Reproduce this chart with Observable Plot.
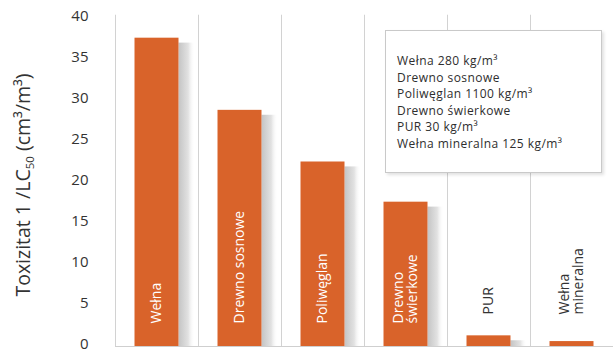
<!DOCTYPE html>
<html><head><meta charset="utf-8">
<script src="https://cdn.jsdelivr.net/npm/d3@7"></script>
<script src="https://cdn.jsdelivr.net/npm/@observablehq/plot@0.6"></script>
<style>
body{margin:0;background:#fff;font-family:"Open Sans",sans-serif}
#wrap{position:relative;width:613px;height:352px}
#legend{position:absolute;left:385px;top:30px;width:217px;height:143px;background:#fff;border:1px solid #c9c9c9;box-shadow:2px 2px 3px rgba(0,0,0,0.12);box-sizing:border-box;padding:22px 0 0 11px;font-size:12px;letter-spacing:0.45px;line-height:16.6px;color:#2e2e2e;white-space:nowrap}
</style>
</head><body><div id="wrap"></div>
<script>
const categories = ["Wełna", "Drewno sosnowe", "Poliwęglan", "Drewno\nświerkowe", "PUR", "Wełna\nmineralna"];
const values = [37.6, 28.8, 22.5, 17.6, 1.3, 0.6];
const yTicks = [0, 5, 10, 15, 20, 25, 30, 35, 40];
const legendLines = ["Wełna 280 kg/m³", "Drewno sosnowe", "Poliwęglan 1100 kg/m³", "Drewno świerkowe", "PUR 30 kg/m³", "Wełna mineralna 125 kg/m³"];

const data = categories.map((c, i) => ({i, c, v: values[i], inside: values[i] > 5}));
const bounds = categories.slice(1).map((c, i) => i + 0.5).concat([-0.5]);

const orange = "#d9632a";
const plot = Plot.plot({
  width: 613, height: 352,
  marginLeft: 115, marginRight: 0, marginTop: 18, marginBottom: 6,
  style: {fontFamily: "Open Sans", background: "#fff", overflow: "visible"},
  x: {type: "linear", domain: [-0.5, 5.5], axis: null},
  y: {domain: [0, 40], axis: null},
  marks: [
    Plot.ruleX(bounds, {x: d => d, y1: 0, y2: 40.4, stroke: "#d2d2d2"}),
    Plot.ruleY([0], {x1: -0.5, x2: 5.5, stroke: "#cfcfcf"}),
    Plot.rectY(data, {x1: d => d.i + 0.265, x2: d => d.i + 0.46, y1: 0, y2: d => Math.max(0, d.v - 0.6), fill: "url(#sg)"}),
    Plot.rectY(data, {x1: d => d.i - 0.265, x2: d => d.i + 0.265, y1: 0, y2: "v", fill: orange}),
    Plot.text(data.filter(d => d.inside), {x: "i", y: 0, text: "c", rotate: -90, textAnchor: "start", dy: -23, fill: "#fff", fontSize: 14}),
    Plot.text(data.filter(d => !d.inside), {x: "i", y: 0, text: "c", rotate: -90, textAnchor: "start", dy: -32, fill: "#333", fontSize: 14}),
    Plot.axisY({ticks: yTicks, tickSize: 0, tickPadding: 27, fontSize: 15, dy: -2, fill: "#333", label: null, tickFormat: d => d})
  ]
});
d3.select(plot).append("defs").html('<linearGradient id="sg" x1="0" x2="1"><stop offset="0" stop-color="#c4c4c4"/><stop offset="0.6" stop-color="#e2e2e2"/><stop offset="1" stop-color="#fff" stop-opacity="0"/></linearGradient>');
const lab = d3.select(plot).append("text")
  .attr("transform", "translate(30,185) rotate(-90)")
  .attr("text-anchor", "middle")
  .attr("font-size", 19.5).attr("fill", "#333").attr("font-family", "Open Sans");
lab.append("tspan").text("Toxizitat 1 /LC");
lab.append("tspan").attr("font-size", 11.5).attr("dy", 4).text("50");
lab.append("tspan").attr("dy", -4).text(" (cm³/m³)");

const wrap = document.getElementById("wrap");
wrap.appendChild(plot);
const lg = document.createElement("div");
lg.id = "legend";
lg.innerHTML = legendLines.map(l => `<div>${l}</div>`).join("");
wrap.appendChild(lg);
</script>
</body></html>
